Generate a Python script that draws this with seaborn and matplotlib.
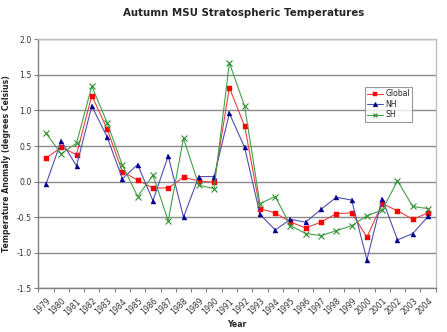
import matplotlib
matplotlib.use("Agg")
import matplotlib.pyplot as plt
from matplotlib.lines import Line2D
from matplotlib.ticker import MultipleLocator, FixedLocator
import seaborn as sns
import pandas as pd

years = list(range(1979, 2005))
global_anom = [0.33, 0.48, 0.38, 1.21, 0.74, 0.14, 0.02, -0.09, -0.09, 0.06,
               0.01, -0.01, 1.32, 0.78, -0.38, -0.44, -0.57, -0.65, -0.57, -0.45,
               -0.44, -0.78, -0.31, -0.41, -0.53, -0.44]
nh_anom = [-0.04, 0.57, 0.22, 1.06, 0.63, 0.04, 0.24, -0.27, 0.36, -0.50,
           0.07, 0.07, 0.96, 0.48, -0.46, -0.68, -0.53, -0.57, -0.39, -0.22,
           -0.26, -1.10, -0.24, -0.82, -0.73, -0.49]
sh_anom = [0.68, 0.39, 0.54, 1.34, 0.83, 0.23, -0.21, 0.09, -0.55, 0.61,
           -0.05, -0.10, 1.67, 1.06, -0.31, -0.21, -0.62, -0.73, -0.76, -0.69,
           -0.62, -0.48, -0.40, 0.01, -0.35, -0.38]

series_names = ["Global", "NH", "SH"]
line_colors = ["#e84040", "#5050b0", "#45a045"]
marker_colors = ["#ff0000", "#000090", "#2f8f2f"]
markers = ["s", "^", "x"]

df = pd.DataFrame({"pos": range(len(years)), "Global": global_anom,
                   "NH": nh_anom, "SH": sh_anom})

sns.set_theme(style="white")
plt.rcParams["font.family"] = ["DejaVu Sans"]

fig = plt.figure(figsize=(4.47, 3.32), dpi=100)
ax = fig.add_axes([38.3 / 447, 1 - 288.3 / 332, (435.7 - 38.3) / 447, (288.3 - 39.3) / 332])

for name, lc, mc, mk in zip(series_names, line_colors, marker_colors, markers):
    kw = dict(markersize=3.6, markerfacecolor=mc, markeredgecolor=mc)
    if mk == "x":
        kw.update(markersize=3.8, markeredgewidth=0.8)
    else:
        kw.update(markeredgewidth=0.3)
    sns.lineplot(data=df, x="pos", y=name, ax=ax, color=lc, marker=mk,
                 linewidth=0.8, legend=False, **kw)

ax.set_xlim(-0.5, len(years) - 0.5)
ax.set_ylim(-1.5, 2.0)
ax.yaxis.set_major_locator(MultipleLocator(0.5))
ax.yaxis.set_major_formatter(matplotlib.ticker.FormatStrFormatter("%.1f"))
ax.grid(axis="y", color="#8a8a8a", linewidth=1.0)
ax.set_axisbelow(True)

ax.set_xticks(range(len(years)))
ax.set_xticklabels([str(y) for y in years], rotation=45, ha="right",
                   va="top", rotation_mode="anchor", fontsize=5.6, color="#333333")
ax.xaxis.set_minor_locator(FixedLocator([i - 0.5 for i in range(len(years) + 1)]))
ax.tick_params(axis="x", which="major", length=0, pad=6)
ax.tick_params(axis="x", which="minor", length=3, width=0.8, color="#808080", bottom=True)
ax.tick_params(axis="y", which="major", length=3, width=0.8, color="#808080",
               left=True, labelsize=5.6, labelcolor="#333333", pad=2)

for side in ["left", "bottom"]:
    ax.spines[side].set_color("#808080")
    ax.spines[side].set_linewidth(1.0)
for side in ["top", "right"]:
    ax.spines[side].set_color("#c0c0c0")
    ax.spines[side].set_linewidth(1.0)

ax.set_xlabel("Year", fontsize=5.6, fontweight="bold", labelpad=2)
ax.set_ylabel("Temperature Anomaly (degrees Celsius)", fontsize=5.6,
              fontweight="bold", labelpad=4)
fig.text(244 / 447, 1 - 13 / 332, "Autumn MSU Stratospheric Temperatures",
         ha="center", va="center", fontsize=7.4, fontweight="bold")

handles = []
for name, lc, mc, mk in zip(series_names, line_colors, marker_colors, markers):
    handles.append(Line2D([0], [0], color=lc, linewidth=0.8, marker=mk,
                          markersize=3.4, markerfacecolor=mc, markeredgecolor=mc,
                          markeredgewidth=0.8 if mk == "x" else 0.3))
leg = ax.legend(handles, series_names, loc="upper left",
                bbox_to_anchor=(365 / 447, 1 - 87 / 332), bbox_transform=fig.transFigure,
                borderaxespad=0, fontsize=5.6, frameon=True, fancybox=False,
                handlelength=2.0, handletextpad=0.3, borderpad=0.3, labelspacing=0.2)
leg.get_frame().set_edgecolor("#808080")
leg.get_frame().set_linewidth(0.8)

fig.savefig("out.png", dpi=100)
